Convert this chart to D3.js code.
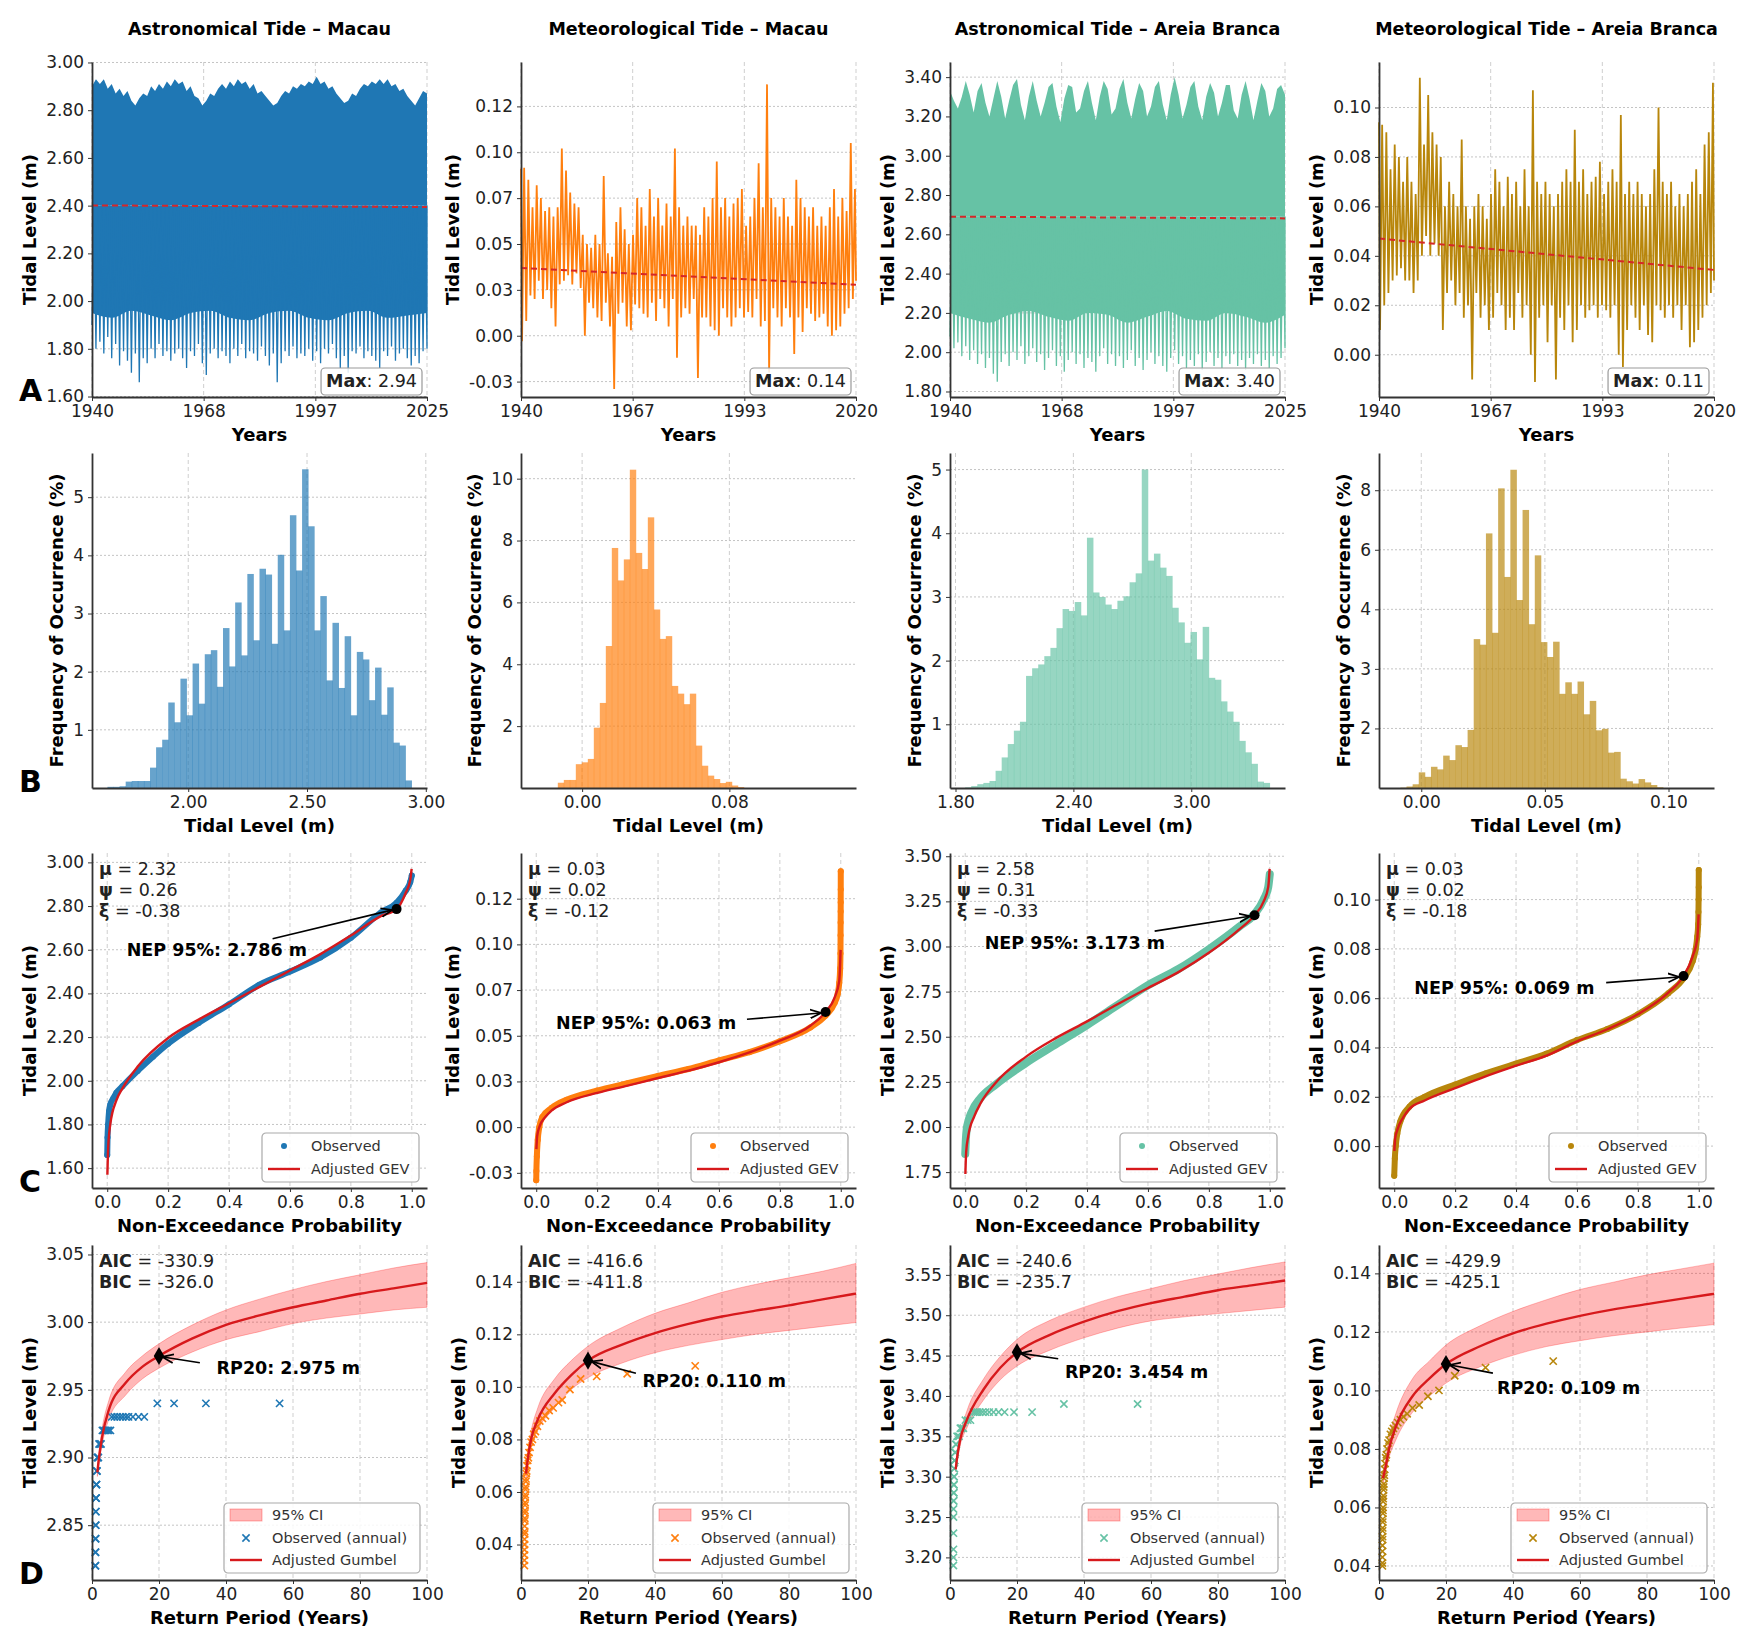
<!DOCTYPE html>
<html>
<head>
<meta charset="utf-8">
<title>Tidal levels – Macau and Areia Branca</title>
<script src="https://cdn.jsdelivr.net/npm/d3@7"></script>
<style>
  body { margin: 0; background: #fff; }
  svg { font-family: "DejaVu Sans", "Liberation Sans", sans-serif; }
</style>
</head>
<body>
<svg id="chart" width="1757" height="1652"></svg>
<script>
// columns: Macau astronomical, Macau meteorological, Areia Branca astronomical, Areia Branca meteorological
const panelTitles = ["Astronomical Tide – Macau", "Meteorological Tide – Macau",
  "Astronomical Tide – Areia Branca", "Meteorological Tide – Areia Branca"];
const seriesColors = ["#1f77b4", "#ff7f0e", "#66c2a5", "#b8860b"];
const fitRed = "#d7191c";

// ---------- row A : time series (envelopes) ----------
const yearsFull = d3.range(1940, 2026);
const yearsMet = d3.range(1940, 2021);
const yearsCore = d3.range(1940, 2026, 5);

const macauAstroTop = [
  2.90,2.93,2.91,2.93,2.89,2.91,2.87,2.89,2.86,2.88,
  2.84,2.82,2.85,2.87,2.86,2.90,2.88,2.91,2.89,2.92,
  2.90,2.93,2.91,2.92,2.88,2.90,2.86,2.85,2.82,2.84,
  2.87,2.86,2.89,2.91,2.89,2.92,2.90,2.93,2.91,2.92,
  2.89,2.91,2.87,2.88,2.86,2.84,2.82,2.83,2.86,2.88,
  2.87,2.90,2.89,2.91,2.90,2.92,2.91,2.94,2.91,2.92,
  2.89,2.90,2.87,2.85,2.83,2.84,2.87,2.86,2.89,2.91,
  2.90,2.92,2.91,2.93,2.91,2.93,2.90,2.91,2.88,2.89,
  2.86,2.84,2.82,2.85,2.88,2.87];
const macauAstroCoreLow = [1.95,1.93,1.96,1.94,1.92,1.95,1.96,1.93,1.92,1.95,1.96,1.93,1.92,1.95,1.96,1.93,1.94,1.95];
const macauAstroLowSpikes = [
  1.90,1.80,1.83,1.78,1.85,1.76,1.82,1.73,1.79,1.75,
  1.70,1.78,1.66,1.76,1.74,1.80,1.76,1.82,1.77,1.79,
  1.75,1.78,1.80,1.76,1.72,1.79,1.77,1.82,1.74,1.69,
  1.78,1.80,1.76,1.79,1.77,1.74,1.80,1.77,1.82,1.76,
  1.79,1.78,1.75,1.81,1.77,1.73,1.78,1.66,1.74,1.79,
  1.77,1.81,1.76,1.78,1.77,1.80,1.75,1.79,1.74,1.80,
  1.78,1.82,1.76,1.72,1.77,1.70,1.79,1.78,1.81,1.76,
  1.79,1.77,1.75,1.72,1.79,1.77,1.81,1.75,1.78,1.80,
  1.76,1.73,1.77,1.74,1.79,1.80];

const areiaAstroTop = [
  3.33,3.28,3.24,3.30,3.38,3.31,3.22,3.33,3.37,3.27,
  3.20,3.29,3.38,3.30,3.19,3.28,3.36,3.39,3.26,3.18,
  3.30,3.38,3.28,3.20,3.27,3.35,3.37,3.25,3.17,3.29,
  3.36,3.35,3.22,3.24,3.33,3.38,3.27,3.18,3.30,3.38,
  3.34,3.21,3.24,3.34,3.39,3.27,3.19,3.29,3.37,3.33,
  3.20,3.25,3.35,3.38,3.26,3.18,3.31,3.40,3.31,3.19,
  3.26,3.35,3.38,3.25,3.18,3.30,3.37,3.32,3.20,3.27,
  3.36,3.36,3.23,3.19,3.31,3.38,3.29,3.18,3.28,3.37,
  3.33,3.20,3.24,3.34,3.36,3.31];
const areiaAstroCoreLow = [2.20,2.17,2.15,2.19,2.21,2.18,2.16,2.20,2.19,2.15,2.18,2.21,2.17,2.16,2.20,2.18,2.15,2.19];
const areiaAstroLowSpikes = [
  2.08,2.02,2.05,1.98,2.03,1.96,2.01,1.94,1.99,1.92,
  1.97,1.89,1.85,1.95,1.99,1.93,2.00,1.96,2.03,1.94,
  1.98,2.02,1.95,1.99,1.91,1.97,2.01,1.93,1.98,1.90,
  1.96,2.00,1.94,1.99,1.92,1.97,1.95,1.90,1.98,2.02,
  1.94,1.99,1.93,1.98,1.92,1.96,2.01,1.93,1.97,1.91,
  1.96,2.00,1.94,1.98,1.93,1.90,1.97,2.01,1.94,1.98,
  1.92,1.96,1.93,1.99,1.91,1.95,2.00,1.93,1.97,1.92,
  1.98,1.94,1.99,1.93,1.96,1.91,1.97,1.94,1.99,1.93,
  1.96,1.92,1.98,1.94,1.97,2.02];

const macauMetHigh = [
  0.091,0.0915,0.085,0.070,0.082,0.075,0.068,0.070,0.065,0.070,
  0.102,0.090,0.078,0.072,0.070,0.055,0.050,0.048,0.055,0.050,
  0.087,0.045,0.043,0.062,0.070,0.058,0.050,0.055,0.075,0.070,
  0.060,0.080,0.065,0.075,0.060,0.072,0.065,0.102,0.070,0.060,
  0.065,0.060,0.060,0.055,0.070,0.065,0.075,0.095,0.070,0.075,
  0.065,0.072,0.075,0.080,0.060,0.065,0.075,0.094,0.070,0.137,
  0.075,0.070,0.065,0.075,0.065,0.060,0.085,0.075,0.070,0.065,
  0.070,0.060,0.065,0.060,0.070,0.080,0.065,0.075,0.068,0.105,0.080];
const macauMetLow = [
  -0.003,0.008,0.022,0.020,0.030,0.020,0.025,0.015,0.005,0.028,
  0.030,0.033,0.028,0.034,0.026,0.000,0.018,0.015,0.010,0.008,
  0.018,0.005,-0.029,0.012,0.018,0.005,0.003,0.017,0.015,0.012,
  0.010,0.018,0.008,0.020,0.015,0.005,0.020,-0.012,0.010,0.015,
  0.012,0.020,-0.023,0.010,0.010,0.005,0.003,0.000,0.015,0.010,
  0.005,0.010,0.015,0.010,0.013,0.010,0.020,0.005,0.008,-0.020,
  0.015,0.010,0.005,0.015,0.010,-0.010,0.010,0.002,0.015,0.012,
  0.008,0.010,0.012,0.005,0.000,0.003,0.005,0.012,0.015,0.020,0.030];

const areiaMetHigh = [
  0.094,0.093,0.090,0.075,0.085,0.080,0.070,0.080,0.070,0.065,
  0.112,0.085,0.105,0.090,0.085,0.080,0.060,0.070,0.065,0.060,
  0.087,0.060,0.055,0.060,0.065,0.060,0.055,0.065,0.075,0.070,
  0.060,0.072,0.065,0.070,0.060,0.075,0.060,0.107,0.070,0.065,
  0.070,0.065,0.060,0.065,0.070,0.075,0.070,0.091,0.070,0.075,
  0.065,0.070,0.072,0.078,0.065,0.070,0.075,0.070,0.097,0.065,
  0.070,0.065,0.070,0.065,0.060,0.065,0.075,0.100,0.070,0.065,
  0.070,0.060,0.065,0.060,0.065,0.070,0.075,0.065,0.085,0.090,0.110];
const areiaMetLow = [
  0.010,0.020,0.025,0.030,0.032,0.035,0.030,0.030,0.025,0.030,
  0.040,0.048,0.040,0.045,0.040,0.010,0.025,0.030,0.020,0.025,
  0.015,0.020,-0.010,0.025,0.015,0.020,0.010,0.015,0.025,0.020,
  0.010,0.015,0.010,0.025,0.015,0.020,0.000,-0.011,0.015,0.020,
  0.005,0.020,-0.010,0.015,0.010,0.020,0.005,0.010,0.020,0.015,
  0.018,0.020,0.015,0.020,0.018,0.015,0.020,0.000,-0.005,0.010,
  0.020,0.015,0.010,0.020,0.008,0.005,0.020,0.018,0.015,0.020,
  0.015,0.020,0.010,0.020,0.003,0.005,0.010,0.015,0.020,0.025,0.030];

const trendStart = [2.401, 0.0369, 2.690, 0.0470];
const trendEnd = [2.394, 0.0278, 2.681, 0.0343];
const maxLabels = ["2.94", "0.14", "3.40", "0.11"];

// ---------- row B : histograms (% per bin) ----------
const histStart = [1.66, -0.0295, 1.849, -0.0109];
const histWidth = [0.0256, 0.00326, 0.031, 0.00247];
const histMacauAstro = [0.02,0.02,0.03,0.11,0.12,0.12,0.12,0.35,0.70,0.83,1.47,1.13,1.88,1.25,2.14,1.45,2.30,2.37,1.74,2.75,
  2.09,3.19,2.28,3.68,2.54,3.77,3.67,2.48,4.01,2.71,4.69,3.74,5.48,4.50,2.71,3.30,1.85,2.84,1.72,2.61,
  1.25,2.34,2.21,1.51,2.07,1.26,1.73,0.78,0.73,0.13];
const histMacauMet = [0,0,0,0,0,0.17,0.26,0.26,0.77,0.83,0.94,1.95,2.75,4.59,7.76,6.71,7.39,10.29,7.60,7.08,
  8.75,5.77,4.82,4.91,3.30,3.05,2.71,3.05,1.37,0.72,0.40,0.29,0.16,0.20,0.08,0.03,0,0,0,0,
  0,0,0,0,0,0,0,0,0,0];
const histAreiaAstro = [0.01,0.03,0.06,0.08,0.11,0.27,0.48,0.69,0.90,1.04,1.76,1.88,1.94,2.07,2.20,2.51,2.81,2.78,2.92,2.71,
  3.93,3.07,3.00,2.88,2.81,2.94,3.01,3.23,3.37,5.00,3.57,3.68,3.46,3.33,2.83,2.60,2.28,2.45,2.02,2.53,
  1.73,1.70,1.36,1.20,1.04,0.74,0.56,0.38,0.10,0.08];
const histAreiaMet = [0,0.01,0.04,0.10,0.42,0.30,0.57,0.50,0.87,0.75,1.15,1.10,1.56,4.00,3.85,6.84,4.17,8.05,5.67,8.55,
  5.05,7.47,4.40,6.25,3.92,3.52,3.93,2.53,2.84,2.53,2.86,1.98,2.34,1.55,1.59,0.95,0.97,0.25,0.18,0.12,
  0.24,0.15,0.08,0.02,0,0,0,0,0,0];

// ---------- row C : non-exceedance probability ----------
const gevParams = [["2.32","0.26","-0.38"], ["0.03","0.02","-0.12"], ["2.58","0.31","-0.33"], ["0.03","0.02","-0.18"]];
const nepValues = [2.786, 0.063, 3.173, 0.069];
const obsP = [
  [0,0.001,0.003,0.006,0.01,0.02,0.03,0.05,0.1,0.15,0.2,0.3,0.4,0.5,0.6,0.7,0.8,0.9,0.95,0.98,0.995,1.0],
  [0,0.0005,0.002,0.005,0.01,0.02,0.05,0.1,0.2,0.3,0.4,0.5,0.6,0.7,0.8,0.9,0.95,0.98,0.99,0.995,0.998,0.999,0.9993,0.9995,0.9997,0.9998,0.9999,1.0],
  [0,0.002,0.005,0.01,0.02,0.05,0.1,0.2,0.3,0.4,0.5,0.6,0.7,0.8,0.9,0.95,0.98,0.995,1.0],
  [0,0.002,0.005,0.01,0.02,0.05,0.1,0.2,0.3,0.4,0.5,0.6,0.7,0.8,0.9,0.95,0.98,0.99,0.995,0.998,0.999,0.9995,0.9998,1.0]];
const obsV = [
  [1.66,1.74,1.80,1.86,1.89,1.92,1.945,1.975,2.045,2.11,2.17,2.265,2.35,2.44,2.50,2.565,2.655,2.772,2.815,2.87,2.91,2.94],
  [-0.029,-0.024,-0.016,-0.007,0.0,0.0055,0.0105,0.015,0.020,0.024,0.028,0.0318,0.0365,0.041,0.047,0.0545,0.061,0.068,0.073,0.079,0.087,0.095,0.105,0.112,0.118,0.123,0.130,0.140],
  [1.85,1.93,1.99,2.03,2.08,2.16,2.235,2.355,2.46,2.565,2.675,2.785,2.875,2.985,3.11,3.18,3.26,3.33,3.40],
  [-0.012,-0.005,0.0,0.005,0.010,0.016,0.020,0.025,0.0295,0.0335,0.0375,0.043,0.0475,0.0535,0.062,0.068,0.075,0.080,0.085,0.090,0.095,0.100,0.105,0.112]];
const gevP = [0.0005,0.003,0.01,0.03,0.05,0.1,0.2,0.3,0.4,0.5,0.6,0.7,0.8,0.9,0.95,0.98,0.995,0.9995];
const gevV = [
  [1.57,1.69,1.80,1.91,1.965,2.065,2.196,2.28,2.355,2.43,2.505,2.58,2.665,2.755,2.786,2.86,2.92,2.97],
  [-0.012,-0.005,0.0,0.0055,0.009,0.0136,0.0187,0.0227,0.0269,0.0309,0.0355,0.0409,0.0473,0.0555,0.063,0.071,0.080,0.097],
  [1.74,1.86,1.95,2.06,2.13,2.245,2.39,2.495,2.585,2.68,2.77,2.858,2.965,3.095,3.173,3.25,3.33,3.43],
  [-0.002,0.003,0.0065,0.0117,0.0151,0.0185,0.0235,0.0283,0.0326,0.0367,0.0425,0.0474,0.0535,0.0623,0.069,0.077,0.084,0.094]];

// ---------- row D : return periods ----------
const aicValues = ["-330.9", "-416.6", "-240.6", "-429.9"];
const bicValues = ["-326.0", "-411.8", "-235.7", "-425.1"];
const rp20Values = [2.975, 0.110, 3.454, 0.109];
const gumbelT = [
  [1.6,2,3,5,10,15,20,30,40,50,60,70,80,90,100],
  [1.5,2,3,5,10,15,20,30,40,50,60,70,80,90,100],
  [1.7,2,3,5,10,15,20,30,40,50,60,70,80,90,100],
  [1.2,2,3,5,10,15,20,30,40,50,60,70,80,90,100]];
const gumbelV = [
  [2.889,2.898,2.915,2.935,2.955,2.967,2.975,2.988,2.998,3.005,3.011,3.016,3.021,3.025,3.029],
  [0.067,0.0723,0.080,0.0875,0.0975,0.1045,0.110,0.116,0.1205,0.124,0.1268,0.129,0.131,0.1333,0.1355],
  [3.309,3.320,3.345,3.370,3.408,3.435,3.454,3.476,3.492,3.505,3.515,3.523,3.531,3.537,3.543],
  [0.070,0.074,0.080,0.0875,0.098,0.104,0.109,0.115,0.1195,0.1228,0.1255,0.1277,0.1295,0.1313,0.133]];
const ciUpper = [
  [2.892,2.902,2.921,2.942,2.963,2.975,2.984,2.998,3.009,3.017,3.024,3.030,3.035,3.040,3.044],
  [0.069,0.075,0.083,0.092,0.103,0.110,0.1155,0.1225,0.128,0.132,0.136,0.139,0.1415,0.144,0.147],
  [3.312,3.325,3.352,3.381,3.421,3.449,3.470,3.494,3.510,3.523,3.533,3.543,3.551,3.559,3.566],
  [0.072,0.077,0.084,0.092,0.104,0.110,0.1155,0.122,0.127,0.131,0.1345,0.137,0.1395,0.1415,0.1435]];
const ciLower = [
  [2.886,2.894,2.909,2.928,2.946,2.958,2.966,2.978,2.987,2.993,2.999,3.003,3.006,3.009,3.011],
  [0.065,0.070,0.077,0.0835,0.092,0.099,0.1035,0.109,0.113,0.1158,0.118,0.120,0.1215,0.123,0.1245],
  [3.306,3.315,3.338,3.360,3.395,3.420,3.437,3.457,3.472,3.484,3.493,3.498,3.502,3.506,3.510],
  [0.068,0.072,0.077,0.083,0.0925,0.098,0.1025,0.108,0.112,0.115,0.117,0.1187,0.120,0.1213,0.1225]];
const annualT = [
  [1.01,1.02,1.04,1.05,1.07,1.08,1.1,1.12,1.14,1.16,1.18,1.2,1.23,1.26,1.3,1.35,1.4,1.5,1.6,1.75,1.9,2.1,2.4,2.7,3.1,3.5,4.0,4.5,5.0,5.5,5.9,6.7,7.5,8.4,9.2,10.1,10.9,12.2,13.9,15.6,19.5,24.5,34,56],
  [1.01,1.02,1.03,1.04,1.05,1.06,1.07,1.08,1.1,1.12,1.14,1.16,1.18,1.2,1.23,1.26,1.3,1.35,1.4,1.45,1.5,1.6,1.7,1.8,2.0,2.2,2.4,2.7,3.0,3.4,3.8,4.3,4.9,5.6,6.4,7.3,8.4,9.6,11.2,12.3,14.6,17.8,22.6,31.7,52],
  [1.01,1.02,1.03,1.04,1.05,1.06,1.08,1.1,1.12,1.14,1.16,1.18,1.2,1.23,1.26,1.3,1.35,1.4,1.5,1.6,1.7,1.9,2.1,2.4,2.7,3.1,3.5,4.0,4.6,5.3,6.1,7.0,7.6,8.2,8.9,9.7,10.6,11.7,13.0,14.5,16.3,19.1,24.5,34,56],
  [1.01,1.02,1.03,1.04,1.05,1.06,1.07,1.08,1.1,1.12,1.14,1.16,1.18,1.2,1.23,1.26,1.3,1.35,1.4,1.45,1.5,1.6,1.7,1.8,2.0,2.2,2.4,2.7,3.0,3.4,3.8,4.3,4.9,5.6,6.4,7.3,8.4,10,12,14.6,17.9,22.6,31.8,52]];
const annualV = [
  [2.82,2.82,2.83,2.83,2.84,2.84,2.85,2.85,2.86,2.86,2.87,2.87,2.87,2.88,2.88,2.88,2.89,2.89,2.90,2.90,2.90,2.91,2.91,2.91,2.92,2.92,2.92,2.92,2.92,2.92,2.93,2.93,2.93,2.93,2.93,2.93,2.93,2.93,2.93,2.93,2.94,2.94,2.94,2.94],
  [0.032,0.034,0.036,0.038,0.040,0.042,0.044,0.045,0.047,0.049,0.050,0.052,0.053,0.055,0.056,0.058,0.059,0.061,0.062,0.064,0.065,0.067,0.068,0.070,0.072,0.073,0.075,0.077,0.079,0.080,0.082,0.083,0.085,0.087,0.088,0.089,0.091,0.092,0.094,0.095,0.099,0.103,0.104,0.105,0.108],
  [3.19,3.20,3.21,3.23,3.25,3.26,3.27,3.27,3.28,3.28,3.29,3.29,3.30,3.30,3.31,3.31,3.32,3.32,3.33,3.33,3.34,3.34,3.35,3.35,3.35,3.36,3.36,3.36,3.37,3.37,3.37,3.38,3.38,3.38,3.38,3.38,3.38,3.38,3.38,3.38,3.38,3.38,3.38,3.39,3.39],
  [0.040,0.041,0.043,0.045,0.047,0.049,0.050,0.052,0.053,0.055,0.056,0.058,0.059,0.060,0.062,0.063,0.064,0.066,0.067,0.068,0.070,0.071,0.073,0.075,0.077,0.078,0.080,0.082,0.083,0.085,0.086,0.087,0.088,0.089,0.090,0.091,0.092,0.094,0.095,0.098,0.100,0.105,0.1078,0.110]];

// ---------- axes: domains, tick values, tick labels ----------
const f2 = d3.format(".2f"), f1 = d3.format(".1f");
const metTicks = [-0.025, 0, 0.025, 0.05, 0.075, 0.1, 0.125];
const metTickLabels = ["-0.03", "0.00", "0.03", "0.05", "0.07", "0.10", "0.12"];
const yearTicks85 = [1940, 1968.33, 1996.67, 2025], yearLabels85 = ["1940", "1968", "1997", "2025"];
const yearTicks80 = [1940, 1966.67, 1993.33, 2020], yearLabels80 = ["1940", "1967", "1993", "2020"];

const rowAy = [[1.598, 3.002], [-0.0334, 0.1492], [1.772, 3.477], [-0.0171, 0.1184]];
const rowAyTicks = [[1.6,1.8,2.0,2.2,2.4,2.6,2.8,3.0], metTicks, [1.8,2.0,2.2,2.4,2.6,2.8,3.0,3.2,3.4], [0,0.02,0.04,0.06,0.08,0.10]];
const rowAyLabels = [rowAyTicks[0].map(f2), metTickLabels, rowAyTicks[2].map(f2), rowAyTicks[3].map(f2)];

const rowBx = [[1.595, 3.005], [-0.0332, 0.1488], [1.772, 3.477], [-0.0171, 0.1184]];
const rowBxTicks = [[2.0, 2.5, 3.0], [0, 0.08], [1.8, 2.4, 3.0], [0, 0.05, 0.10]];
const rowBymax = [5.76, 10.83, 5.26, 9.0];
const rowByTicks = [[1,2,3,4,5], [2,4,6,8,10], [1,2,3,4,5], [1.6,3.2,4.8,6.4,8.0]];
const rowByLabels = [["1","2","3","4","5"], ["2","4","6","8","10"], ["1","2","3","4","5"], ["2","3","4","6","8"]];

const rowCy = [[1.509, 3.043], [-0.0333, 0.150], [1.662, 3.518], [-0.017, 0.1189]];
const rowCyTicks = [[1.6,1.8,2.0,2.2,2.4,2.6,2.8,3.0], metTicks, [1.75,2.0,2.25,2.5,2.75,3.0,3.25,3.5], [0,0.02,0.04,0.06,0.08,0.10]];
const rowCyLabels = [rowCyTicks[0].map(f2), metTickLabels, rowCyTicks[2].map(f2), rowCyTicks[3].map(f2)];
const probTicks = [0, 0.2, 0.4, 0.6, 0.8, 1.0];

const rowDy = [[2.8095, 3.057], [0.0265, 0.154], [3.172, 3.587], [0.0352, 0.1497]];
const rowDyTicks = [[2.85,2.90,2.95,3.00,3.05], [0.04,0.06,0.08,0.10,0.12,0.14], [3.20,3.25,3.30,3.35,3.40,3.45,3.50,3.55], [0.04,0.06,0.08,0.10,0.12,0.14]];
const periodTicks = [0, 20, 40, 60, 80, 100];

// ---------- layout ----------
const W = 335, H = 335;
const colX = [92, 521, 950, 1379];
const rowY = [62, 453, 853, 1245];
const nepLabelAt = [[0.064, 2.60], [0.065, 0.0569], [0.064, 3.02], [0.066, 0.0643]];
const nepArrowFrom = [[0.543, 2.65], [0.692, 0.059], [0.622, 3.085], [0.696, 0.0663]];
const rpLabelAt = [[37.2, 2.966], [36.3, 0.1023], [34.3, 3.4293], [35.2, 0.1008]];
const rpArrowFrom = [[32.2, 2.970], [34.3, 0.1052], [32.3, 3.446], [34.0, 0.1059]];

const svg = d3.select("#chart");
svg.append("rect").attr("width", 1757).attr("height", 1652).attr("fill", "#fff");

const defs = svg.append("defs");
defs.append("marker").attr("id", "arrowHead")
  .attr("viewBox", "0 0 10 10").attr("refX", 9.5).attr("refY", 5)
  .attr("markerWidth", 11).attr("markerHeight", 11)
  .attr("markerUnits", "userSpaceOnUse").attr("orient", "auto")
  .append("path").attr("d", "M0,1 L10,5 L0,9")
  .attr("fill", "none").attr("stroke", "#000").attr("stroke-width", 1.6);

function panel(col, row, o) {
  const g = svg.append("g").attr("transform", `translate(${colX[col]},${rowY[row]})`);
  const x = d3.scaleLinear().domain(o.xd).range([0, W]);
  const y = d3.scaleLinear().domain(o.yd).range([H, 0]);

  const grid = g.append("g");
  grid.selectAll("line.vg").data(o.xt).join("line").attr("class", "vg")
    .attr("x1", d => x(d)).attr("x2", d => x(d)).attr("y1", 0).attr("y2", H)
    .attr("stroke", "#cfcfcf").attr("stroke-width", 1).attr("stroke-dasharray", "4,3");
  grid.selectAll("line.hg").data(o.yt).join("line").attr("class", "hg")
    .attr("x1", 0).attr("x2", W).attr("y1", d => y(d)).attr("y2", d => y(d))
    .attr("stroke", "#c4c4c4").attr("stroke-width", 1).attr("stroke-dasharray", "2,2");

  const plot = g.append("g");

  const xa = g.append("g").attr("transform", `translate(0,${H})`)
    .call(d3.axisBottom(x).tickValues(o.xt).tickFormat((d, i) => o.xl[i])
      .tickSize(4).tickSizeOuter(0).tickPadding(4));
  const ya = g.append("g")
    .call(d3.axisLeft(y).tickValues(o.yt).tickFormat((d, i) => o.yl[i])
      .tickSize(4).tickSizeOuter(0).tickPadding(4));
  [xa, ya].forEach(a => {
    a.select(".domain").attr("stroke", "#333").attr("stroke-width", 1.8);
    a.selectAll(".tick line").attr("stroke", "#333");
    a.selectAll("text").attr("font-size", 17).attr("fill", "#222")
      .attr("font-family", "DejaVu Sans, sans-serif");
  });

  const bb = ya.node().getBBox();
  g.append("text")
    .attr("transform", `translate(${bb.x - 10},${H / 2}) rotate(-90)`)
    .attr("text-anchor", "middle").attr("font-size", 18).attr("font-weight", "bold")
    .text(o.ylab);
  g.append("text").attr("x", W / 2).attr("y", H + 44)
    .attr("text-anchor", "middle").attr("font-size", 18).attr("font-weight", "bold")
    .text(o.xlab);
  return { g, plot, x, y };
}

function cornerText(g, lines) {
  lines.forEach((ln, i) => {
    const t = g.append("text").attr("x", 7).attr("y", 16 + i * 21)
      .attr("dominant-baseline", "central").attr("font-size", 17.5).attr("fill", "#222");
    t.append("tspan").attr("font-weight", "bold").text(ln[0]);
    t.append("tspan").text(ln[1]);
  });
}

// ---------------- Row A ----------------
const astroTop = [macauAstroTop, null, areiaAstroTop, null];
const astroCore = [macauAstroCoreLow, null, areiaAstroCoreLow, null];
const astroSpikes = [macauAstroLowSpikes, null, areiaAstroLowSpikes, null];
const metHigh = [null, macauMetHigh, null, areiaMetHigh];
const metLow = [null, macauMetLow, null, areiaMetLow];

for (let c = 0; c < 4; c++) {
  const astro = c % 2 === 0;
  const p = panel(c, 0, {
    xd: astro ? [1940, 2025] : [1940, 2020], yd: rowAy[c],
    xt: astro ? yearTicks85 : yearTicks80, xl: astro ? yearLabels85 : yearLabels80,
    yt: rowAyTicks[c], yl: rowAyLabels[c],
    xlab: "Years", ylab: "Tidal Level (m)"
  });
  p.x.clamp(true);
  const col = seriesColors[c];
  const mid = trendStart[c];
  if (astro) {
    // upper half: jagged top envelope
    p.plot.append("path").datum(yearsFull)
      .attr("d", d3.area().x(d => p.x(d)).y0(p.y(mid)).y1((d, i) => p.y(astroTop[c][i])))
      .attr("fill", col);
    // lower half: dense core
    p.plot.append("path").datum(yearsCore)
      .attr("d", d3.area().x(d => p.x(d)).y0(p.y(mid)).y1((d, i) => p.y(astroCore[c][i])).curve(d3.curveMonotoneX))
      .attr("fill", col);
    // low-water spikes
    const pts = [];
    yearsFull.forEach((yr, i) => { pts.push([yr, astroSpikes[c][i]]); pts.push([yr + 0.5, mid]); });
    p.plot.append("path").datum(pts)
      .attr("d", d3.line().x(d => p.x(d[0])).y(d => p.y(d[1])))
      .attr("fill", "none").attr("stroke", col).attr("stroke-width", 1.3);
  } else {
    const pts = [];
    yearsMet.forEach((yr, i) => { pts.push([yr - 0.25, metHigh[c][i]]); pts.push([yr + 0.25, metLow[c][i]]); });
    p.plot.append("path").datum(pts)
      .attr("d", d3.line().x(d => p.x(d[0])).y(d => p.y(d[1])))
      .attr("fill", "none").attr("stroke", col).attr("stroke-width", 1.8).attr("stroke-linejoin", "bevel");
  }
  // linear trend
  const xd = p.x.domain();
  p.plot.append("line")
    .attr("x1", p.x(xd[0])).attr("x2", p.x(xd[1]))
    .attr("y1", p.y(trendStart[c])).attr("y2", p.y(trendEnd[c]))
    .attr("stroke", "#d62728").attr("stroke-width", 2).attr("stroke-dasharray", "6,4");
  // max box
  const mg = p.g.append("g");
  const mr = mg.append("rect");
  const mt = mg.append("text").attr("x", W - 10).attr("y", H - 16)
    .attr("text-anchor", "end").attr("dominant-baseline", "central")
    .attr("font-size", 17.5).attr("fill", "#222");
  mt.append("tspan").attr("font-weight", "bold").text("Max");
  mt.append("tspan").text(": " + maxLabels[c]);
  const mb = mt.node().getBBox();
  mr.attr("x", mb.x - 5).attr("y", H - 29).attr("width", mb.width + 10).attr("height", 27)
    .attr("rx", 4).attr("fill", "#fff").attr("fill-opacity", 0.85)
    .attr("stroke", "#999").attr("stroke-width", 1.2);
  // title
  svg.append("text").attr("x", colX[c] + W / 2).attr("y", 35)
    .attr("text-anchor", "middle").attr("font-size", 17.5).attr("font-weight", "bold")
    .text(panelTitles[c]);
}

// ---------------- Row B ----------------
const histHeights = [histMacauAstro, histMacauMet, histAreiaAstro, histAreiaMet];
for (let c = 0; c < 4; c++) {
  const p = panel(c, 1, {
    xd: rowBx[c], yd: [0, rowBymax[c]],
    xt: rowBxTicks[c], xl: rowBxTicks[c].map(f2),
    yt: rowByTicks[c], yl: rowByLabels[c],
    xlab: "Tidal Level (m)", ylab: "Frequency of Occurrence (%)"
  });
  const bins = histHeights[c].map((h, i) => ({
    x0: histStart[c] + i * histWidth[c], x1: histStart[c] + (i + 1) * histWidth[c], h
  }));
  p.plot.selectAll("rect").data(bins).join("rect")
    .attr("x", d => p.x(d.x0)).attr("width", d => p.x(d.x1) - p.x(d.x0) + 0.4)
    .attr("y", d => p.y(d.h)).attr("height", d => p.y(0) - p.y(d.h))
    .attr("fill", seriesColors[c]).attr("fill-opacity", 0.68);
}

// ---------------- Row C ----------------
for (let c = 0; c < 4; c++) {
  const p = panel(c, 2, {
    xd: [-0.05, 1.05], yd: rowCy[c],
    xt: probTicks, xl: probTicks.map(f1),
    yt: rowCyTicks[c], yl: rowCyLabels[c],
    xlab: "Non-Exceedance Probability", ylab: "Tidal Level (m)"
  });
  const col = seriesColors[c];
  const obs = obsP[c].map((pp, i) => [pp, obsV[c][i]]);
  const gev = gevP.map((pp, i) => [pp, gevV[c][i]]);
  const line = d3.line().x(d => p.x(d[0])).y(d => p.y(d[1])).curve(d3.curveMonotoneX);
  p.plot.append("path").datum(obs).attr("d", line)
    .attr("fill", "none").attr("stroke", col).attr("stroke-width", c === 2 ? 8 : 6)
    .attr("stroke-linecap", "round").attr("stroke-linejoin", "round");
  p.plot.selectAll("circle.obs").data(obs).join("circle").attr("class", "obs")
    .attr("cx", d => p.x(d[0])).attr("cy", d => p.y(d[1])).attr("r", 3).attr("fill", col);
  p.plot.append("path").datum(gev).attr("d", line)
    .attr("fill", "none").attr("stroke", fitRed).attr("stroke-width", 2.4);

  // NEP 95 % annotation
  const nx = p.x(0.95), ny = p.y(nepValues[c]);
  p.plot.append("line")
    .attr("x1", p.x(nepArrowFrom[c][0])).attr("y1", p.y(nepArrowFrom[c][1]))
    .attr("x2", nx - 5).attr("y2", ny + 1)
    .attr("stroke", "#000").attr("stroke-width", 1.6).attr("marker-end", "url(#arrowHead)");
  p.plot.append("circle").attr("cx", nx).attr("cy", ny).attr("r", 5).attr("fill", "#000");
  p.plot.append("text").attr("x", p.x(nepLabelAt[c][0])).attr("y", p.y(nepLabelAt[c][1]))
    .attr("dominant-baseline", "central").attr("font-size", 17.5).attr("font-weight", "bold")
    .text(`NEP 95%: ${nepValues[c].toFixed(3)} m`);

  cornerText(p.g, [["μ", " = " + gevParams[c][0]], ["ψ", " = " + gevParams[c][1]], ["ξ", " = " + gevParams[c][2]]]);

  // legend
  const lg = p.g.append("g").attr("transform", `translate(${W - 165},${H - 55})`);
  lg.append("rect").attr("width", 157).attr("height", 49).attr("rx", 4)
    .attr("fill", "#fff").attr("fill-opacity", 0.85).attr("stroke", "#aaa").attr("stroke-width", 1.2);
  lg.append("circle").attr("cx", 22).attr("cy", 13).attr("r", 3).attr("fill", col);
  lg.append("line").attr("x1", 6).attr("x2", 38).attr("y1", 36).attr("y2", 36)
    .attr("stroke", fitRed).attr("stroke-width", 2.4);
  lg.append("text").attr("x", 49).attr("y", 13).attr("dominant-baseline", "central")
    .attr("font-size", 14.5).attr("fill", "#333").text("Observed");
  lg.append("text").attr("x", 49).attr("y", 36).attr("dominant-baseline", "central")
    .attr("font-size", 14.5).attr("fill", "#333").text("Adjusted GEV");
}

// ---------------- Row D ----------------
const crossPath = "M-3.6,-3.6L3.6,3.6M-3.6,3.6L3.6,-3.6";
for (let c = 0; c < 4; c++) {
  const p = panel(c, 3, {
    xd: [0, 100], yd: rowDy[c],
    xt: periodTicks, xl: periodTicks.map(String),
    yt: rowDyTicks[c], yl: rowDyTicks[c].map(f2),
    xlab: "Return Period (Years)", ylab: "Tidal Level (m)"
  });
  const col = seriesColors[c];
  const band = gumbelT[c].map((t, i) => [t, ciLower[c][i], ciUpper[c][i]]);
  p.plot.append("path").datum(band)
    .attr("d", d3.area().x(d => p.x(d[0])).y0(d => p.y(d[1])).y1(d => p.y(d[2])).curve(d3.curveMonotoneX))
    .attr("fill", "#ff0000").attr("fill-opacity", 0.28)
    .attr("stroke", "#ff0000").attr("stroke-opacity", 0.25).attr("stroke-width", 1);
  p.plot.selectAll("path.obs").data(annualT[c].map((t, i) => [t, annualV[c][i]])).join("path")
    .attr("class", "obs").attr("d", crossPath)
    .attr("transform", d => `translate(${p.x(d[0])},${p.y(d[1])})`)
    .attr("stroke", col).attr("stroke-width", 1.6).attr("fill", "none");
  p.plot.append("path").datum(gumbelT[c].map((t, i) => [t, gumbelV[c][i]]))
    .attr("d", d3.line().x(d => p.x(d[0])).y(d => p.y(d[1])).curve(d3.curveMonotoneX))
    .attr("fill", "none").attr("stroke", fitRed).attr("stroke-width", 2.4);

  // RP20 annotation
  const rx = p.x(20), ry = p.y(rp20Values[c]);
  p.plot.append("line")
    .attr("x1", p.x(rpArrowFrom[c][0])).attr("y1", p.y(rpArrowFrom[c][1]))
    .attr("x2", rx + 4).attr("y2", ry + 1)
    .attr("stroke", "#000").attr("stroke-width", 1.6).attr("marker-end", "url(#arrowHead)");
  p.plot.append("path").attr("d", d3.symbol(d3.symbolDiamond, 95)())
    .attr("transform", `translate(${rx},${ry})`).attr("fill", "#000");
  p.plot.append("text").attr("x", p.x(rpLabelAt[c][0])).attr("y", p.y(rpLabelAt[c][1]))
    .attr("dominant-baseline", "central").attr("font-size", 17.5).attr("font-weight", "bold")
    .text(`RP20: ${rp20Values[c].toFixed(3)} m`);

  cornerText(p.g, [["AIC", " = " + aicValues[c]], ["BIC", " = " + bicValues[c]]]);

  // legend
  const lg = p.g.append("g").attr("transform", `translate(${W - 203},${H - 77})`);
  lg.append("rect").attr("width", 196).attr("height", 70).attr("rx", 4)
    .attr("fill", "#fff").attr("fill-opacity", 0.85).attr("stroke", "#aaa").attr("stroke-width", 1.2);
  lg.append("rect").attr("x", 6).attr("y", 6).attr("width", 32).attr("height", 12)
    .attr("fill", "#ff0000").attr("fill-opacity", 0.28).attr("stroke", "#ff0000").attr("stroke-opacity", 0.3);
  lg.append("path").attr("d", crossPath).attr("transform", "translate(22,35)")
    .attr("stroke", col).attr("stroke-width", 1.6);
  lg.append("line").attr("x1", 6).attr("x2", 38).attr("y1", 57).attr("y2", 57)
    .attr("stroke", fitRed).attr("stroke-width", 2.4);
  [["95% CI", 12], ["Observed (annual)", 35], ["Adjusted Gumbel", 57]].forEach(([t, yy]) => {
    lg.append("text").attr("x", 48).attr("y", yy).attr("dominant-baseline", "central")
      .attr("font-size", 14.5).attr("fill", "#333").text(t);
  });
}

// row letters
["A", "B", "C", "D"].forEach((L, r) => {
  svg.append("text").attr("x", 19).attr("y", rowY[r] + H + 4)
    .attr("font-size", 30).attr("font-weight", "bold").text(L);
});
</script>
</body>
</html>
